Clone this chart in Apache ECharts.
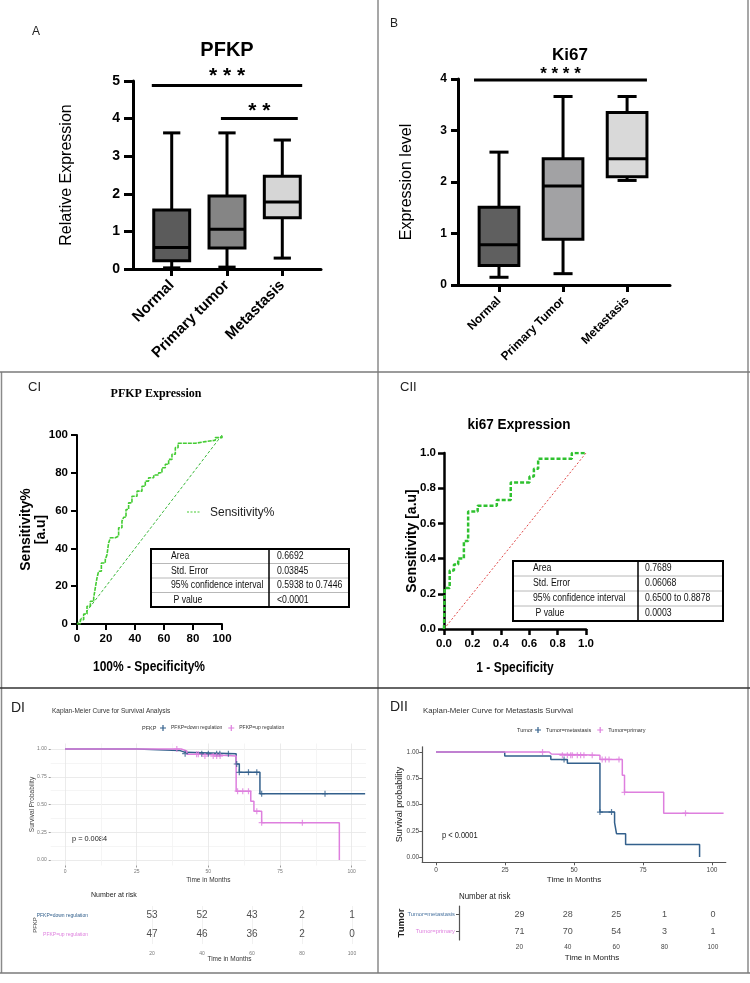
<!DOCTYPE html>
<html>
<head>
<meta charset="utf-8">
<title>PFKP / Ki67 figure</title>
<script src="https://cdn.jsdelivr.net/npm/echarts@6/dist/echarts.min.js"></script>
<style>
  html, body { margin: 0; padding: 0; background: #fff; }
  #container { width: 750px; height: 983px; }
</style>
</head>
<body>
<div id="container"></div>
<script>
// ---------- data ----------
var groupsA = ['Normal', 'Primary tumor', 'Metastasis'];
// [index, min, q1, median, q3, max]
var pfkpBox = [
    [0, 0.03, 0.22, 0.57, 1.57, 3.62],
    [1, 0.05, 0.56, 1.06, 1.94, 3.62],
    [2, 0.29, 1.36, 1.78, 2.47, 3.43]
];
var groupsB = ['Normal', 'Primary Tumor', 'Metastasis'];
var ki67Box = [
    [0, 0.15, 0.38, 0.78, 1.51, 2.58],
    [1, 0.22, 0.89, 1.92, 2.45, 3.66],
    [2, 2.03, 2.10, 2.45, 3.35, 3.66]
];
// significance bars: [from, to, lineY, starsY]
var sigA = [[-0.36, 2.36, 4.88, 5.14], [0.89, 2.28, 4.0, 4.2]];
var sigAText = ['* * *', '* *'];
var sigB = [[-0.39, 2.31, 3.98, 4.09]];
var sigBText = ['* * * *'];

// ROC PFKP (100% - specificity, sensitivity)
var rocPfkpX = [0, 2.3, 4.6, 6.9, 9.2, 11.5, 12.6, 13.8, 14.9, 16.8, 19.5, 20.7, 21.8, 23, 26.4, 28.7, 31, 32.2, 33.8, 35.6, 37.9, 41.4, 44.8, 47.1, 49.4, 52.9, 56.3, 58.6, 60.9, 63.2, 65.5, 67.8, 69.7, 74.7, 81.6, 88.5, 95.4, 100];
var rocPfkpY = [0, 2.3, 5.3, 9.4, 12, 13.8, 19.1, 24.4, 27.9, 32.3, 34.1, 36.7, 42.9, 45.6, 46.5, 50.9, 54.4, 56.5, 60.6, 64.1, 67.6, 70.3, 72.9, 75.6, 77.4, 78.8, 80, 82.7, 84.5, 87.1, 89.8, 93.3, 95.6, 95.6, 96.5, 97.2, 98.6, 100];
var diagPfkp = [[0, 0], [100, 100]];

// ROC Ki67 (1 - specificity, sensitivity)
var rocKiX = [0, 0.005, 0.04, 0.07, 0.10, 0.14, 0.17, 0.237, 0.372, 0.47, 0.602, 0.633, 0.663, 0.9, 1.0];
var rocKiY = [0, 0.233, 0.333, 0.367, 0.4, 0.5, 0.667, 0.7, 0.733, 0.833, 0.867, 0.91, 0.967, 1.0, 1.0];
var diagKi = [[0, 0], [1, 1]];

var tablePfkp = [['Area', '0.6692'], ['Std. Error', '0.03845'], ['95% confidence interval', '0.5938 to 0.7446'], [' P value', '<0.0001']];
var tableKi = [['Area', '0.7689'], ['Std. Error', '0.06068'], ['95% confidence interval', '0.6500 to 0.8878'], [' P value', '0.0003']];

// Kaplan-Meier, PFKP groups
var kmDownT = [0, 25.2, 39.9, 41.9, 59.7, 60.8, 68.0, 104.7];
var kmDownS = [1, 0.988, 0.97, 0.958, 0.865, 0.79, 0.598, 0.598];
var kmDownCensT = [41.9, 47.7, 50, 52.9, 54, 57, 59.9, 60.8, 64, 66.9, 68.6, 90.7];
var kmDownCensS = [0.958, 0.958, 0.958, 0.958, 0.958, 0.958, 0.865, 0.79, 0.79, 0.79, 0.598, 0.598];
var kmUpT = [0, 40.5, 42.5, 48.3, 59.7, 64.8, 65.9, 68.6, 95.7];
var kmUpS = [1, 0.982, 0.952, 0.937, 0.62, 0.53, 0.44, 0.336, 0];
var kmUpCensT = [39, 45.9, 46.5, 48.8, 51.7, 52.9, 54.1, 60.2, 62, 64, 66.9, 68.6, 82.8];
var kmUpCensS = [1, 0.952, 0.952, 0.937, 0.937, 0.937, 0.937, 0.62, 0.62, 0.62, 0.44, 0.336, 0.336];

// Kaplan-Meier, tumour groups
var kmMetT = [0, 24.9, 41.6, 47.6, 59.4, 64.7, 65.4, 68.7, 95.5];
var kmMetS = [1, 0.962, 0.928, 0.893, 0.428, 0.327, 0.223, 0.119, 0];
var kmMetCensT = [46.4, 59.4, 63.6];
var kmMetCensS = [0.928, 0.428, 0.428];
var kmPriT = [0, 41, 41.8, 59.4, 67.5, 68.3, 82.5, 104.2];
var kmPriS = [1, 0.981, 0.969, 0.93, 0.78, 0.616, 0.418, 0.418];
var kmPriCensT = [38.6, 45.8, 47.6, 48.8, 49.4, 51.2, 52.4, 53.6, 56.6, 60.2, 61.4, 62.7, 66.3, 68.3, 90.4];
var kmPriCensS = [1, 0.969, 0.969, 0.969, 0.969, 0.969, 0.969, 0.969, 0.969, 0.93, 0.93, 0.93, 0.93, 0.616, 0.418];

// numbers at risk
var riskTimes = [20, 40, 60, 80, 100];
var riskDown = [53, 52, 43, 2, 1];
var riskUp = [47, 46, 36, 2, 0];
var riskMet = [29, 28, 25, 1, 0];
var riskPri = [71, 70, 54, 3, 1];

var survTicks = [0, 0.25, 0.5, 0.75, 1];
var monthTicks = [0, 25, 50, 75, 100];

// ---------- helpers ----------
var F = "'Liberation Sans', Arial, sans-serif";
var BLUE = '#33608c', PINK = '#de7fde';
var plus = 'path://M4,0h2v10h-2z M0,4h10v2h-10z';

function zip(a, b) { return a.map(function (v, i) { return [v, b[i]]; }); }

function boxRender(fills, widthUnits) {
    return function (params, api) {
        var x = api.value(0);
        var lo = api.coord([x, api.value(1)]);
        var q1 = api.coord([x, api.value(2)]);
        var md = api.coord([x, api.value(3)]);
        var q3 = api.coord([x, api.value(4)]);
        var hi = api.coord([x, api.value(5)]);
        var half = api.size([widthUnits, 0])[0] / 2;
        var cap = half * 0.48;
        var cx = lo[0];
        var st = {stroke: '#000', lineWidth: 3, fill: null};
        return {
            type: 'group', children: [
                {type: 'line', shape: {x1: cx, y1: hi[1], x2: cx, y2: q3[1]}, style: st},
                {type: 'line', shape: {x1: cx, y1: q1[1], x2: cx, y2: lo[1]}, style: st},
                {type: 'line', shape: {x1: cx - cap, y1: hi[1], x2: cx + cap, y2: hi[1]}, style: st},
                {type: 'line', shape: {x1: cx - cap, y1: lo[1], x2: cx + cap, y2: lo[1]}, style: st},
                {type: 'rect', shape: {x: cx - half, y: q3[1], width: half * 2, height: q1[1] - q3[1]},
                    style: {fill: fills[params.dataIndex], stroke: '#000', lineWidth: 3}},
                {type: 'line', shape: {x1: cx - half, y1: md[1], x2: cx + half, y2: md[1]}, style: st}
            ]
        };
    };
}

function sigRender(texts, fontSize) {
    return function (params, api) {
        var a = api.coord([api.value(0), api.value(2)]);
        var b = api.coord([api.value(1), api.value(2)]);
        var t = api.coord([(api.value(0) + api.value(1)) / 2, api.value(3)]);
        return {
            type: 'group', children: [
                {type: 'line', shape: {x1: a[0], y1: a[1], x2: b[0], y2: b[1]}, style: {stroke: '#000', lineWidth: 3}},
                {type: 'text', x: t[0], y: t[1], style: {text: texts[params.dataIndex], fontSize: fontSize,
                    fontWeight: 'bold', fontFamily: F, fill: '#000', align: 'center', verticalAlign: 'middle'}}
            ]
        };
    };
}

function riskData(rows) {
    var out = [];
    rows.forEach(function (vals, r) {
        vals.forEach(function (n, i) { out.push([riskTimes[i], r, n]); });
    });
    return out;
}

function txt(text, x, y, size, opt) {
    opt = opt || {};
    return {type: 'text', x: x, y: y, rotation: opt.rotation || 0, scaleX: opt.scaleX || 1,
        style: {text: text, fontSize: size, fontFamily: opt.family || F, fontWeight: opt.weight || 'normal',
            fill: opt.color || '#111', align: opt.align || 'left', verticalAlign: 'middle'}};
}

function line(x1, y1, x2, y2, color, w, dash) {
    return {type: 'line', shape: {x1: x1, y1: y1, x2: x2, y2: y2},
        style: {stroke: color, lineWidth: w, lineDash: dash || null}};
}

function statTable(rows, x, y, w, h, colX, padL, padR, size) {
    var els = [];
    var rh = h / rows.length;
    els.push({type: 'rect', shape: {x: x, y: y, width: w, height: h}, style: {fill: '#fff', stroke: '#000', lineWidth: 2}});
    for (var i = 1; i < rows.length; i++) {
        els.push(line(x + 1, y + rh * i, x + w - 1, y + rh * i, '#b8b8b8', 1));
    }
    els.push(line(colX, y, colX, y + h, '#000', 1.5));
    rows.forEach(function (r, i) {
        var cy = y + rh * (i + 0.5);
        els.push(txt(r[0], x + padL, cy, size, {color: '#111', scaleX: 0.87}));
        els.push(txt(r[1], colX + padR, cy, size, {color: '#111', scaleX: 0.87}));
    });
    return els;
}

// ---------- axes ----------
var boldTick = {fontFamily: F, fontWeight: 'bold', color: '#000'};
var kmLabel = {fontFamily: F, color: '#777', fontSize: 5};

var xAxes = [
    // 0: A
    {gridIndex: 0, type: 'value', min: -0.7, max: 2.7,
        axisLine: {lineStyle: {color: '#000', width: 3}},
        axisTick: {customValues: [0, 1, 2], length: 7, lineStyle: {width: 3, color: '#000'}},
        axisLabel: Object.assign({customValues: [0, 1, 2], rotate: 45, fontSize: 15, margin: 14,
            formatter: function (v) { return groupsA[v]; }}, boldTick),
        splitLine: {show: false}},
    // 1: B
    {gridIndex: 1, type: 'value', min: -0.64, max: 2.67,
        axisLine: {lineStyle: {color: '#000', width: 3}},
        axisTick: {customValues: [0, 1, 2], length: 7, lineStyle: {width: 3, color: '#000'}},
        axisLabel: Object.assign({customValues: [0, 1, 2], rotate: 45, fontSize: 12, margin: 14,
            formatter: function (v) { return groupsB[v]; }}, boldTick),
        splitLine: {show: false}},
    // 2: CI
    {gridIndex: 2, type: 'value', min: 0, max: 100, interval: 20,
        axisLine: {lineStyle: {color: '#000', width: 2}},
        axisTick: {length: 6, lineStyle: {width: 2, color: '#000'}},
        axisLabel: Object.assign({fontSize: 11.5, margin: 9}, boldTick),
        splitLine: {show: false}},
    // 3: CII
    {gridIndex: 3, type: 'value', min: 0, max: 1, interval: 0.2,
        axisLine: {lineStyle: {color: '#000', width: 2.5}},
        axisTick: {length: 6, lineStyle: {width: 2.5, color: '#000'}},
        axisLabel: Object.assign({fontSize: 11.5, margin: 9, formatter: function (v) { return v.toFixed(1); }}, boldTick),
        splitLine: {show: false}},
    // 4: DI KM
    {gridIndex: 4, type: 'value', min: -5, max: 105,
        axisLine: {show: false},
        axisTick: {customValues: monthTicks, length: 2, lineStyle: {color: '#999'}},
        axisLabel: Object.assign({customValues: monthTicks, margin: 4}, kmLabel),
        splitLine: {show: true, lineStyle: {color: '#e6e6e6', width: 0.8}},
        name: 'Time in Months', nameLocation: 'middle', nameGap: 11,
        nameTextStyle: {fontSize: 6.5, fontFamily: F, color: '#333'}},
    // 5: DII KM
    {gridIndex: 5, type: 'value', min: -5, max: 105,
        axisLine: {lineStyle: {color: '#555', width: 1.2}},
        axisTick: {customValues: monthTicks, length: 3, lineStyle: {color: '#555'}},
        axisLabel: {customValues: monthTicks, margin: 4, fontFamily: F, color: '#444', fontSize: 6.5},
        splitLine: {show: false},
        name: 'Time in Months', nameLocation: 'middle', nameGap: 13,
        nameTextStyle: {fontSize: 8, fontFamily: F, color: '#222'}},
    // 6: DI risk
    {gridIndex: 6, type: 'value', min: -4, max: 106,
        axisLine: {show: false},
        axisTick: {show: false, customValues: riskTimes},
        axisLabel: Object.assign({customValues: riskTimes, margin: 7}, kmLabel),
        splitLine: {show: true, lineStyle: {color: '#eeeeee', width: 0.8}},
        name: 'Time in Months', nameLocation: 'middle', nameGap: 12,
        nameTextStyle: {fontSize: 6.5, fontFamily: F, color: '#333'}},
    // 7: DII risk
    {gridIndex: 7, type: 'value', min: -5, max: 105,
        axisLine: {lineStyle: {color: '#555', width: 1.2}},
        axisTick: {customValues: riskTimes, length: 3, lineStyle: {color: '#555'}},
        axisLabel: {customValues: riskTimes, margin: 4, fontFamily: F, color: '#444', fontSize: 6.5},
        splitLine: {show: false},
        name: 'Time in Months', nameLocation: 'middle', nameGap: 14,
        nameTextStyle: {fontSize: 8, fontFamily: F, color: '#222'}},
    // 8: DI KM minor grid
    {gridIndex: 4, type: 'value', min: -5, max: 105,
        axisLine: {show: false}, axisTick: {show: false, customValues: [12.5, 37.5, 62.5, 87.5]},
        axisLabel: {show: false}, splitLine: {show: true, lineStyle: {color: '#f3f3f3', width: 0.8}}}
];

var yAxes = [
    {gridIndex: 0, type: 'value', min: 0, max: 5, interval: 1,
        axisLine: {show: true, lineStyle: {color: '#000', width: 3}},
        axisTick: {show: true, length: 9, lineStyle: {width: 3, color: '#000'}},
        axisLabel: Object.assign({fontSize: 14, margin: 13}, boldTick),
        splitLine: {show: false},
        name: 'Relative Expression', nameLocation: 'middle', nameGap: 58,
        nameTextStyle: {fontSize: 16, fontFamily: F, color: '#000'}},
    {gridIndex: 1, type: 'value', min: 0, max: 4, interval: 1,
        axisLine: {show: true, lineStyle: {color: '#000', width: 3}},
        axisTick: {show: true, length: 7, lineStyle: {width: 3, color: '#000'}},
        axisLabel: Object.assign({fontSize: 12, margin: 11}, boldTick),
        splitLine: {show: false},
        name: 'Expression level', nameLocation: 'middle', nameGap: 43,
        nameTextStyle: {fontSize: 16, fontFamily: F, color: '#000'}},
    {gridIndex: 2, type: 'value', min: 0, max: 100, interval: 20,
        axisLine: {show: true, lineStyle: {color: '#000', width: 2}},
        axisTick: {show: true, length: 6, lineStyle: {width: 2, color: '#000'}},
        axisLabel: Object.assign({fontSize: 11.5, margin: 9}, boldTick),
        splitLine: {show: false},
        name: 'Sensitivity%\n[a.u]', nameLocation: 'middle', nameGap: 28,
        nameTextStyle: {fontSize: 14, fontWeight: 'bold', fontFamily: F, color: '#000', lineHeight: 15}},
    {gridIndex: 3, type: 'value', min: 0, max: 1, interval: 0.2,
        axisLine: {show: true, lineStyle: {color: '#000', width: 2.5}},
        axisTick: {show: true, length: 6, lineStyle: {width: 2.5, color: '#000'}},
        axisLabel: Object.assign({fontSize: 11.5, margin: 8, formatter: function (v) { return v.toFixed(1); }}, boldTick),
        splitLine: {show: false},
        name: 'Sensitivity [a.u]', nameLocation: 'middle', nameGap: 25,
        nameTextStyle: {fontSize: 14, fontWeight: 'bold', fontFamily: F, color: '#000'}},
    {gridIndex: 4, type: 'value', min: -0.05, max: 1.05,
        axisLine: {show: false},
        axisTick: {show: true, customValues: survTicks, length: 2, lineStyle: {color: '#999'}},
        axisLabel: Object.assign({customValues: survTicks, margin: 4, formatter: function (v) { return v.toFixed(2); }}, kmLabel),
        splitLine: {show: true, lineStyle: {color: '#e6e6e6', width: 0.8}},
        name: 'Survival Probability', nameLocation: 'middle', nameGap: 15,
        nameTextStyle: {fontSize: 6.5, fontFamily: F, color: '#444'}},
    {gridIndex: 5, type: 'value', min: -0.05, max: 1.05,
        axisLine: {show: true, lineStyle: {color: '#555', width: 1.2}},
        axisTick: {show: true, customValues: survTicks, length: 3, lineStyle: {color: '#555'}},
        axisLabel: {customValues: survTicks, margin: 3, fontFamily: F, color: '#444', fontSize: 6.5,
            formatter: function (v) { return v.toFixed(2); }},
        splitLine: {show: false},
        name: 'Survival probability', nameLocation: 'middle', nameGap: 18,
        nameTextStyle: {fontSize: 9, fontFamily: F, color: '#222'}},
    {gridIndex: 6, type: 'category', inverse: true, data: ['PFKP=down regulation', 'PFKP=up regulation'],
        axisLine: {show: false}, axisTick: {show: false},
        axisLabel: {fontSize: 5, fontFamily: F, margin: 4,
            formatter: function (v, i) { return i === 0 ? '{d|' + v + '}' : '{u|' + v + '}'; },
            rich: {d: {color: BLUE, fontSize: 5, fontFamily: F}, u: {color: PINK, fontSize: 5, fontFamily: F}}},
        splitLine: {show: false},
        name: 'PFKP', nameLocation: 'middle', nameGap: 54,
        nameTextStyle: {fontSize: 6, fontFamily: F, color: '#444'}},
    {gridIndex: 7, type: 'category', inverse: true, data: ['Tumor=metastasis', 'Tumor=primary'],
        axisLine: {show: true, lineStyle: {color: '#555', width: 1.2}},
        axisTick: {show: true, length: 3, alignWithLabel: true, lineStyle: {color: '#555'}},
        axisLabel: {fontSize: 5.8, fontFamily: F, margin: 4,
            formatter: function (v, i) { return i === 0 ? '{d|' + v + '}' : '{u|' + v + '}'; },
            rich: {d: {color: '#4a74a0', fontSize: 5.8, fontFamily: F}, u: {color: PINK, fontSize: 5.8, fontFamily: F}}},
        splitLine: {show: false},
        name: 'Tumor', nameLocation: 'middle', nameGap: 53,
        nameTextStyle: {fontSize: 9.5, fontWeight: 'bold', fontFamily: F, color: '#222'}},
    {gridIndex: 4, type: 'value', min: -0.05, max: 1.05,
        axisLine: {show: false}, axisTick: {show: false, customValues: [0.125, 0.375, 0.625, 0.875]},
        axisLabel: {show: false}, splitLine: {show: true, lineStyle: {color: '#f3f3f3', width: 0.8}}}
];

// every axis sits on its grid edge and keeps its name where nameGap says
xAxes.concat(yAxes).forEach(function (ax) {
    ax.axisLine = Object.assign({onZero: false}, ax.axisLine);
    ax.nameMoveOverlap = false;
});

// ---------- series ----------
function kmLine(name, xi, t, s, color) {
    return {name: name, type: 'line', xAxisIndex: xi, yAxisIndex: xi, step: 'end', data: zip(t, s),
        showSymbol: false, symbol: 'none', lineStyle: {color: color, width: 1.5}, itemStyle: {color: color}, z: 3};
}
function kmCens(name, xi, t, s, color, size) {
    return {name: name, type: 'scatter', xAxisIndex: xi, yAxisIndex: xi, data: zip(t, s),
        symbol: plus, symbolSize: size, itemStyle: {color: color}, z: 4};
}
function riskSeries(xi, rows, size) {
    return {type: 'scatter', xAxisIndex: xi, yAxisIndex: xi, data: riskData(rows), symbolSize: 1,
        itemStyle: {color: 'rgba(0,0,0,0)'},
        label: {show: true, position: 'inside', formatter: function (p) { return p.value[2]; },
            fontSize: size, fontFamily: F, color: '#222'}};
}

var series = [
    {type: 'custom', xAxisIndex: 0, yAxisIndex: 0, data: pfkpBox, renderItem: boxRender(['#5b5b5b', '#858585', '#d6d6d6'], 0.65)},
    {type: 'custom', xAxisIndex: 0, yAxisIndex: 0, data: sigA, clip: false, renderItem: sigRender(sigAText, 21)},
    {type: 'custom', xAxisIndex: 1, yAxisIndex: 1, data: ki67Box, renderItem: boxRender(['#5f5f5f', '#a2a2a4', '#d9d9d9'], 0.62)},
    {type: 'custom', xAxisIndex: 1, yAxisIndex: 1, data: sigB, clip: false, renderItem: sigRender(sigBText, 17)},

    {type: 'line', xAxisIndex: 2, yAxisIndex: 2, data: diagPfkp, symbol: 'none',
        lineStyle: {color: '#3cb83c', width: 1, type: [3, 2]}},
    {type: 'line', xAxisIndex: 2, yAxisIndex: 2, data: zip(rocPfkpX, rocPfkpY), step: 'end', symbol: 'none',
        lineStyle: {color: '#44cc33', width: 1.6, type: [4, 1]}},
    {type: 'line', xAxisIndex: 3, yAxisIndex: 3, data: diagKi, symbol: 'none',
        lineStyle: {color: '#e04848', width: 1, type: [2, 2]}},
    {type: 'line', xAxisIndex: 3, yAxisIndex: 3, data: zip(rocKiX, rocKiY), step: 'end', symbol: 'none',
        lineStyle: {color: '#2fc12f', width: 2.5, type: [4, 2]}},

    kmLine('PFKP=down regulation', 4, kmDownT, kmDownS, BLUE),
    kmLine('PFKP=up regulation', 4, kmUpT, kmUpS, PINK),
    kmCens('PFKP=down regulation', 4, kmDownCensT, kmDownCensS, BLUE, 6),
    kmCens('PFKP=up regulation', 4, kmUpCensT, kmUpCensS, PINK, 6),

    kmLine('Tumor=metastasis', 5, kmMetT, kmMetS, BLUE),
    kmLine('Tumor=primary', 5, kmPriT, kmPriS, PINK),
    kmCens('Tumor=metastasis', 5, kmMetCensT, kmMetCensS, BLUE, 6),
    kmCens('Tumor=primary', 5, kmPriCensT, kmPriCensS, PINK, 6),

    riskSeries(6, [riskDown, riskUp], 10),
    riskSeries(7, [riskMet, riskPri], 9)
];

// ---------- static decoration ----------
var graphics = [
    // panel frames
    line(378, 0, 378, 973, '#8a8a8a', 1.5),
    line(748, 0, 748, 973, '#8a8a8a', 1.5),
    line(1.5, 372, 1.5, 973, '#8a8a8a', 1.5),
    line(0, 372, 750, 372, '#7a7a7a', 1.5),
    line(0, 688, 750, 688, '#333', 1.5),
    line(0, 973, 750, 973, '#7a7a7a', 1.5),
    // panel letters
    txt('A', 32, 32, 12, {color: '#222'}),
    txt('B', 390, 24, 12, {color: '#222'}),
    txt('CI', 28, 387, 13, {color: '#222'}),
    txt('CII', 400, 387, 13, {color: '#222'}),
    txt('DI', 11, 708, 14, {color: '#222'}),
    txt('DII', 390, 707, 14, {color: '#222'}),
    // titles
    txt('PFKP', 227, 50, 20, {weight: 'bold', align: 'center', color: '#000'}),
    txt('Ki67', 570, 55, 17, {weight: 'bold', align: 'center', color: '#000'}),
    txt('PFKP Expression', 156, 394, 12, {weight: 'bold', align: 'center', color: '#000', family: "'Liberation Serif', serif"}),
    txt('ki67 Expression', 519, 425, 15, {weight: 'bold', align: 'center', color: '#000', scaleX: 0.9}),
    txt('Kaplan-Meier Curve for Survival Analysis', 52, 711, 6.5, {color: '#333'}),
    txt('Kaplan-Meier Curve for Metastasis Survival', 423, 711, 7.8, {color: '#333'}),
    // ROC axis titles
    txt('100% - Specificity%', 149, 667, 15, {weight: 'bold', align: 'center', color: '#000', scaleX: 0.8}),
    txt('1 - Specificity', 515, 668, 15, {weight: 'bold', align: 'center', color: '#000', scaleX: 0.8}),
    // legend of ROC
    line(187, 512, 201, 512, '#44cc33', 1.2, [2, 1.5]),
    txt('Sensitivity%', 210, 512, 13, {color: '#222', scaleX: 0.92}),
    // KM legend titles
    txt('PFKP', 142, 728, 5.5, {color: '#333'}),
    txt('Tumor', 517, 730, 5.5, {color: '#333'}),
    // p values
    txt('p = 0.0084', 72, 839, 8, {color: '#222', scaleX: 0.92}),
    txt('p < 0.0001', 442, 836, 8.5, {color: '#222', scaleX: 0.88}),
    // risk table titles
    txt('Number at risk', 91, 895, 8, {color: '#222', scaleX: 0.88}),
    txt('Number at risk', 459, 897, 9, {color: '#222', scaleX: 0.88})
].concat(statTable(tablePfkp, 151, 549, 198, 58, 269, 20, 8, 10))
 .concat(statTable(tableKi, 513, 561, 210, 60, 638, 20, 7, 10));

var legendCommon = {icon: plus, itemWidth: 6, itemHeight: 6, itemGap: 6, padding: 0, selectedMode: false};

var option = {
    animation: false,
    backgroundColor: '#fff',
    grid: [
        {left: 133, top: 81, width: 188, height: 188},
        {left: 458, top: 79, width: 212, height: 206},
        {left: 77, top: 435, width: 145, height: 189},
        {left: 444, top: 453, width: 142, height: 176},
        {left: 50.7, top: 743.5, width: 315.3, height: 122},
        {left: 422.2, top: 746.8, width: 303.6, height: 115.5},
        {left: 92, top: 906, width: 275, height: 38},
        {left: 459, top: 906, width: 266, height: 34}
    ],
    legend: [
        Object.assign({data: ['PFKP=down regulation', 'PFKP=up regulation'], left: 160, top: 725,
            textStyle: {fontSize: 5, fontFamily: F, color: '#333'}}, legendCommon),
        Object.assign({data: ['Tumor=metastasis', 'Tumor=primary'], left: 535, top: 727,
            textStyle: {fontSize: 5.5, fontFamily: F, color: '#333'}}, legendCommon)
    ],
    xAxis: xAxes,
    yAxis: yAxes,
    series: series,
    graphic: graphics
};

var myChart = echarts.init(document.getElementById('container'));
myChart.setOption(option);
</script>
</body>
</html>
